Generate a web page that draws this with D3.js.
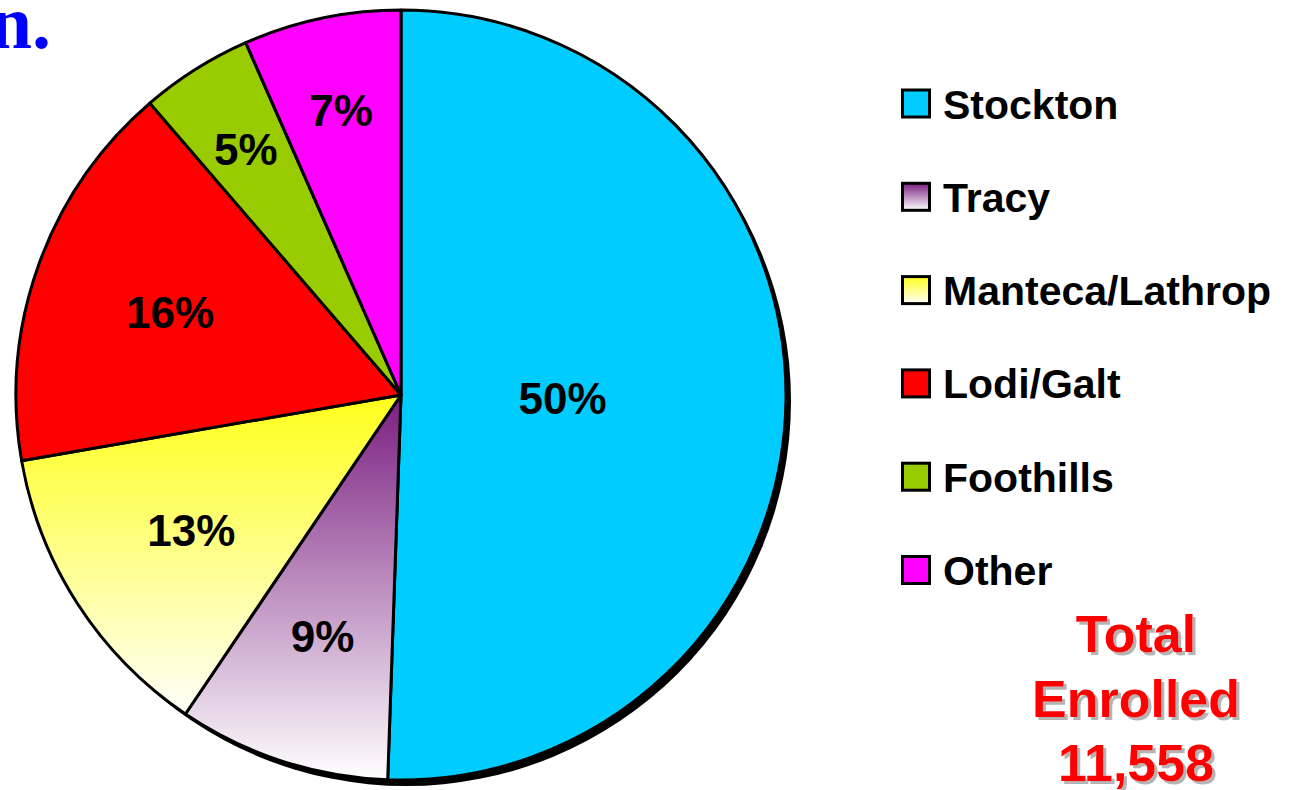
<!DOCTYPE html>
<html>
<head>
<meta charset="utf-8">
<script src="https://cdn.jsdelivr.net/npm/d3@7"></script>
<style>
  html, body { margin: 0; padding: 0; background: #ffffff; }
  svg { display: block; }
</style>
</head>
<body>
<script>
// ---- data ----
const categories = ["Stockton", "Tracy", "Manteca/Lathrop", "Lodi/Galt", "Foothills", "Other"];
const values = [50.5, 8.9, 12.8, 16.4, 4.7, 6.6];
const valueLabels = ["50%", "9%", "13%", "16%", "5%", "7%"];
const totalLines = ["Total", "Enrolled", "11,558"];
const titleTail = "n.";

// ---- styles ----
const fills = ["#00CCFF", "url(#gTracy)", "url(#gManteca)", "#FF0000", "#99CC00", "#FF00FF"];
const W = 1301, H = 790;
const cx = 401, cy = 395, R = 385;

const svg = d3.select("body").append("svg").attr("width", W).attr("height", H);
svg.append("rect").attr("width", W).attr("height", H).attr("fill", "#fff");

const defs = svg.append("defs");
function vGrad(id, c0, c1) {
  const g = defs.append("linearGradient").attr("id", id)
    .attr("x1", 0).attr("y1", 0).attr("x2", 0).attr("y2", 1);
  g.append("stop").attr("offset", "0%").attr("stop-color", c0);
  g.append("stop").attr("offset", "100%").attr("stop-color", c1);
}
vGrad("gTracy", "#7A1E80", "#FFFFFF");
vGrad("gManteca", "#FFFF1A", "#FFFFFA");

// drop shadow for the total block
const f = defs.append("filter").attr("id", "tshadow")
  .attr("x", "-10%").attr("y", "-10%").attr("width", "120%").attr("height", "130%");
f.append("feFlood").attr("flood-color", "#B4B4B4").attr("result", "fl");
f.append("feComposite").attr("in", "fl").attr("in2", "SourceAlpha").attr("operator", "in").attr("result", "sh");
f.append("feOffset").attr("in", "sh").attr("dx", 3).attr("dy", 3).attr("result", "sho");
const fm = f.append("feMerge");
fm.append("feMergeNode").attr("in", "sho");
fm.append("feMergeNode").attr("in", "SourceGraphic");

const color = d3.scaleOrdinal().domain(categories).range(fills);

// title fragment
svg.append("text")
  .attr("x", 51).attr("y", 48)
  .attr("text-anchor", "end")
  .attr("font-family", "'Liberation Serif', 'Times New Roman', serif")
  .attr("font-weight", "bold")
  .attr("font-size", 76)
  .attr("fill", "#0000FF")
  .text(titleTail);

// pie
const pie = d3.pie().sort(null).value(d => d.v);
const data = pie(categories.map((c, i) => ({ c, v: values[i], l: valueLabels[i] })));
const arc = d3.arc().innerRadius(0).outerRadius(R);

const g = svg.append("g").attr("transform", `translate(${cx},${cy})`);
// shadow
g.append("circle").attr("cx", 5).attr("cy", 6).attr("r", R).attr("fill", "#000");

g.selectAll("path.slice").data(data).enter().append("path")
  .attr("class", "slice")
  .attr("d", arc)
  .attr("fill", d => color(d.data.c))
  .attr("stroke", "#000")
  .attr("stroke-width", 3)
  .attr("stroke-linejoin", "round");

// labels at sector area centroid; narrow slices pushed outward
g.selectAll("text.val").data(data).enter().append("text")
  .attr("class", "val")
  .attr("transform", d => {
    const th = d.endAngle - d.startAngle;
    const mid = (d.startAngle + d.endAngle) / 2;
    let dist = 4 * R * Math.sin(th / 2) / (3 * th);
    if (th < 0.5) dist = 0.755 * R;
    return `translate(${dist * Math.sin(mid)},${-dist * Math.cos(mid)})`;
  })
  .attr("text-anchor", "middle")
  .attr("dy", "0.36em")
  .attr("font-family", "'Liberation Sans', Arial, sans-serif")
  .attr("font-weight", "bold")
  .attr("font-size", 44)
  .attr("fill", "#000")
  .text(d => d.data.l);

// legend
const rowY = d3.scalePoint().domain(categories).range([103.5, 103.5 + 5 * 93.3]);
const leg = svg.append("g");
const items = leg.selectAll("g").data(categories).enter().append("g")
  .attr("transform", d => `translate(0,${rowY(d)})`);
items.append("rect")
  .attr("x", 902.5).attr("y", -13.5).attr("width", 27).attr("height", 27)
  .attr("fill", d => color(d))
  .attr("stroke", "#000").attr("stroke-width", 3);
items.append("text")
  .attr("x", 943).attr("y", 15)
  .attr("font-family", "'Liberation Sans', Arial, sans-serif")
  .attr("font-weight", "bold")
  .attr("font-size", 41)
  .attr("fill", "#000")
  .text(d => d);

// total block
const tg = svg.append("g").attr("filter", "url(#tshadow)");
tg.selectAll("text").data(totalLines).enter().append("text")
  .attr("x", 1136)
  .attr("y", (d, i) => 652 + i * 64.5)
  .attr("text-anchor", "middle")
  .attr("font-family", "'Liberation Sans', Arial, sans-serif")
  .attr("font-weight", "bold").attr("font-size", 52)
  .attr("fill", "#FF0000")
  .text(d => d);
</script>
</body>
</html>
